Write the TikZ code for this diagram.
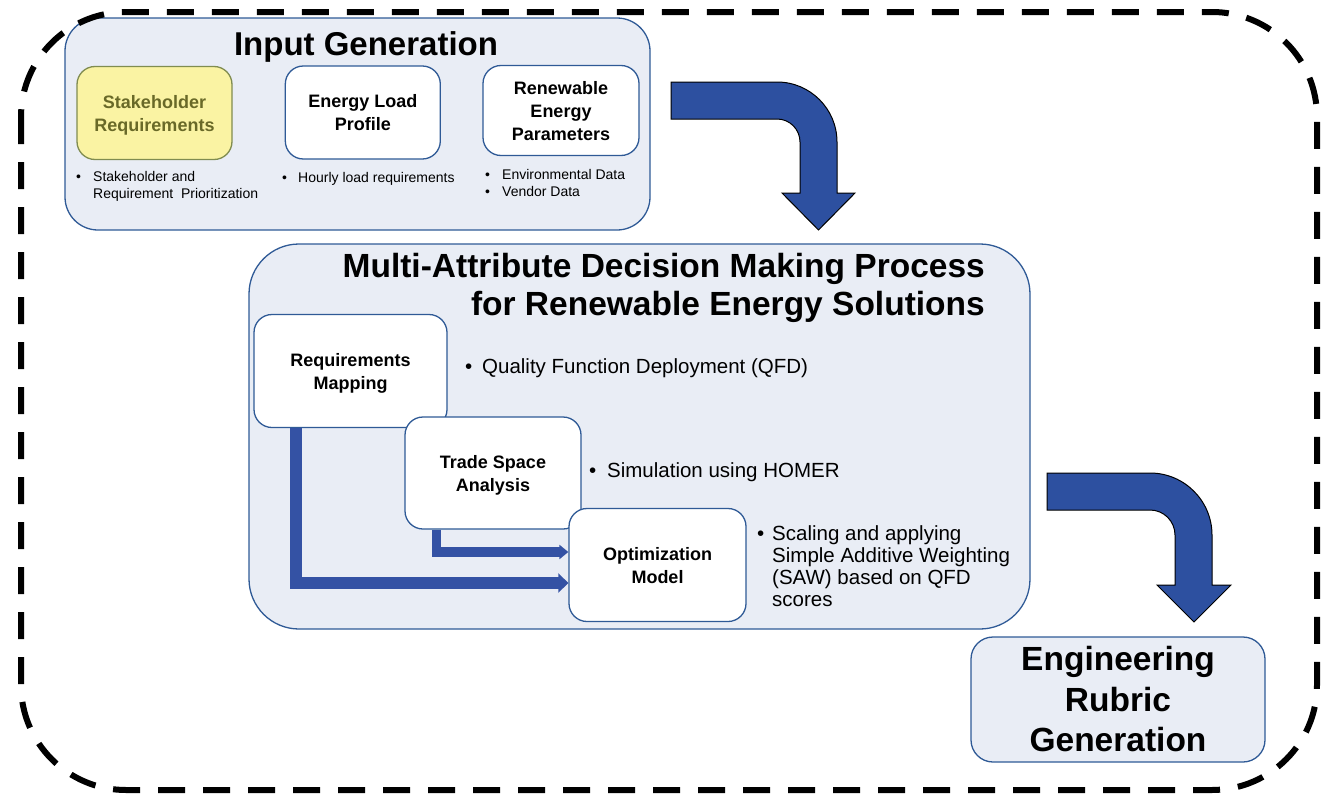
\documentclass[tikz,border=0pt]{standalone}
\usepackage{fontspec}
\setmainfont{Liberation Sans}
\usetikzlibrary{arrows.meta, calc}

\definecolor{panelfill}{RGB}{233,237,245}
\definecolor{panelline}{RGB}{47,90,150}
\definecolor{stakefill}{RGB}{250,243,163}
\definecolor{stakeline}{RGB}{128,140,80}
\definecolor{staketext}{RGB}{105,105,40}
\definecolor{bentblue}{RGB}{45,80,160}
\definecolor{feedblue}{RGB}{52,82,164}

\newcommand{\bul}[1]{\makebox[#1][l]{\textbullet}}

\begin{document}
\begin{tikzpicture}[x = 1pt, y = 1pt, yscale = -1,
	panel/.style = {draw = panelline, line width = 1.3pt, fill = panelfill, inner sep = 0pt},
	stepbox/.style = {draw = panelline, line width = 1.3pt, fill = white, rounded corners = 18pt, align = center, inner sep = 0pt, text depth = 0pt, font = \fontsize{18}{23}\selectfont\bfseries},
	notes/.style = {anchor = north west, align = left, inner sep = 0pt},
	bent/.style = {fill = bentblue, draw = black, line width = 1pt}]

	\useasboundingbox (0, 0) rectangle (1328, 795);

	% Input generation
	
	\node [panel, rounded corners = 33pt, minimum width = 585pt, minimum height = 212pt] (ig) at (357.5, 124) {};
	\node [anchor = north, inner sep = 0pt, font = \fontsize{33}{38}\selectfont\bfseries] (ig-title) at (366, 31) {Input Generation};
	
	\node [stepbox, fill = stakefill, draw = stakeline, text = staketext, minimum width = 155pt, minimum height = 93pt] (stake) at (154.5, 113) {Stakeholder\\Requirements};
	\node [stepbox, minimum width = 155pt, minimum height = 93pt] (load) at (362.8, 112.5) {Energy Load\\Profile};
	\node [stepbox, minimum width = 156pt, minimum height = 90pt] (renew) at (561, 110.5) {Renewable\\Energy\\Parameters};
	
	\node [notes, font = \fontsize{14}{17}\selectfont] (stake-notes) at (76, 171) {\bul{17pt}Stakeholder and\\\hspace{17pt}Requirement\ \ Prioritization};
	\node [notes, font = \fontsize{14}{17}\selectfont] (load-notes) at (282, 172) {\bul{16pt}Hourly load requirements};
	\node [notes, font = \fontsize{14}{17}\selectfont] (renew-notes) at (485, 169) {\bul{17pt}Environmental Data\\\bul{17pt}Vendor Data};
	
	% Multi-attribute decision making
	
	\node [panel, rounded corners = 50pt, minimum width = 781pt, minimum height = 385pt] (madm) at (639.5, 436.5) {};
	\node [anchor = north east, align = right, inner sep = 0pt, font = \fontsize{33.5}{38}\selectfont\bfseries] (madm-title) at (985, 253) {Multi-Attribute Decision Making Process\\for Renewable Energy Solutions};
	
	\node [stepbox, minimum width = 193pt, minimum height = 113pt] (rmap) at (350.5, 371) {Requirements\\Mapping};
	\node [stepbox, minimum width = 176pt, minimum height = 112pt] (trade) at (493, 473) {Trade Space\\Analysis};
	\node [stepbox, minimum width = 177pt, minimum height = 113pt] (optim) at (657.5, 565) {Optimization\\Model};
	
	\node [notes, font = \fontsize{20.5}{22}\selectfont] (qfd) at (465, 358.5) {\bul{17pt}Quality Function Deployment (QFD)};
	\node [notes, font = \fontsize{20.5}{22}\selectfont] (homer) at (589, 462.5) {\bul{18pt}Simulation using HOMER};
	\node [notes, font = \fontsize{20.5}{22}\selectfont] (saw) at (757, 525.5) {\bul{15pt}Scaling and applying\\\hspace{15pt}Simple Additive Weighting\\\hspace{15pt}(SAW) based on QFD\\\hspace{15pt}scores};
	
	% Feeds into the optimization model
	
	\draw [feedblue, line width = 12pt, -{Triangle[length = 10pt, width = 19pt]}] ($(rmap.south west) + (43, 0)$) |- ($(optim.west) + (0, 18)$);
	\draw [feedblue, line width = 9.5pt, -{Triangle[length = 9pt, width = 14pt]}] ($(trade.south west) + (32, 0)$) |- ($(optim.west) + (0, -13)$);
	
	% Engineering rubric
	
	\node [panel, rounded corners = 22pt, minimum width = 294pt, minimum height = 125pt, align = center, font = \fontsize{33.5}{40.5}\selectfont\bfseries] (rubric) at (1118, 699.5) {Engineering\\Rubric\\Generation};
	
	% Bent arrows between the stages
	
	\filldraw [bent] (671, 82) -- (777, 82) arc [start angle = -90, end angle = 0, radius = 60] -- (837, 193) -- (855, 193) -- (818.5, 230) -- (782, 193) -- (800, 193) -- (800, 142) arc [start angle = 0, end angle = -90, radius = 23] -- (671, 119) -- cycle;
	\filldraw [bent] (1047, 473) -- (1150, 473) arc [start angle = -90, end angle = 0, radius = 62] -- (1212, 585) -- (1231, 585) -- (1194, 622) -- (1157, 585) -- (1175, 585) -- (1175, 535) arc [start angle = 0, end angle = -90, radius = 25] -- (1047, 510) -- cycle;
	
	% Dashed frame
	
	\draw [line width = 6pt, dash pattern = on 27pt off 18pt, rounded corners = 105pt] (21, 12) rectangle (1317, 790);

\end{tikzpicture}
\end{document}
